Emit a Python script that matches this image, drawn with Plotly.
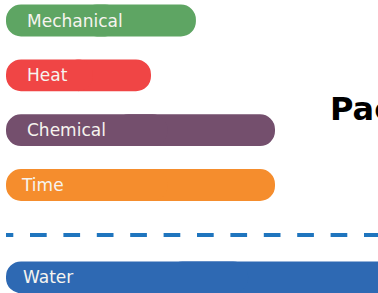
import plotly.graph_objects as go

# ---- data ----
categories = ["Mechanical", "Heat", "Chemical", "Time"]
values = [7.06, 5.39, 10.0, 10.0]
bottom_category = ["Water"]
bottom_values = [15.0]
title_text = "Pac"

# ---- styles ----
colors = ["#5ea563", "#f04545", "#744f6d", "#f58d2d"]
bottom_color = "#2e69b3"
dash_color = "#1f75be"
label_shift = [19, 19, 19, 13, 15]
label_font = dict(family="DejaVu Sans", size=17, color="#f6f4ef")
BAR_W = 0.58

W, H = 378, 293
def py(p):  # pixel -> paper y
    return 1 - p / H

fig = go.Figure()

def pill(cat, val, color, yaxis):
    # two overlapping halves so both ends are rounded by barcornerradius
    fig.add_trace(go.Bar(y=[cat], x=[val * 0.6], base=[val * 0.4], orientation="h",
                         marker=dict(color=color, line=dict(width=0)), width=BAR_W,
                         yaxis=yaxis, hoverinfo="skip"))
    fig.add_trace(go.Bar(y=[cat], x=[-val * 0.6], base=[val * 0.6], orientation="h",
                         marker=dict(color=color, line=dict(width=0)), width=BAR_W,
                         yaxis=yaxis, hoverinfo="skip"))

for c, v, col in zip(categories, values, colors):
    pill(c, v, col, "y")
for c, v in zip(bottom_category, bottom_values):
    pill(c, v, bottom_color, "y2")

annotations = []
all_cats = categories + bottom_category
for i, c in enumerate(all_cats):
    annotations.append(dict(x=0, y=c, xref="x", yref="y" if i < len(categories) else "y2",
                            text=c, showarrow=False, xanchor="left", yanchor="middle",
                            xshift=label_shift[i], font=label_font))
annotations.append(dict(x=328 / W, y=py(108.5), xref="paper", yref="paper", text="<b>%s</b>" % title_text,
                        showarrow=False, xanchor="left", yanchor="middle",
                        font=dict(family="DejaVu Sans", size=32, color="#000000")))

dash = "7.3px,16.7px," + ",".join(["16.7px"] * 24)

scale = 26.9
fig.update_layout(
    width=W, height=H,
    margin=dict(l=0, r=0, t=0, b=0),
    paper_bgcolor="white", plot_bgcolor="white",
    barmode="overlay", barcornerradius=16, showlegend=False,
    xaxis=dict(range=[-6 / scale, (W - 6) / scale], visible=False, fixedrange=True),
    yaxis=dict(type="category", categoryorder="array", categoryarray=categories,
               range=[3.638, -0.374], domain=[py(220), 1], visible=False, fixedrange=True),
    yaxis2=dict(type="category", categoryorder="array", categoryarray=bottom_category,
                range=[0.286, -0.680], domain=[0, py(240)], visible=False, anchor="x", fixedrange=True),
    annotations=annotations,
    shapes=[dict(type="line", xref="x", yref="paper", x0=0, x1=20, y0=py(235), y1=py(235),
                 line=dict(color=dash_color, width=4, dash=dash))],
)

fig.write_html("out.html", config={"displayModeBar": False},
               post_script="document.body.style.margin='0';document.body.style.overflow='hidden';")
